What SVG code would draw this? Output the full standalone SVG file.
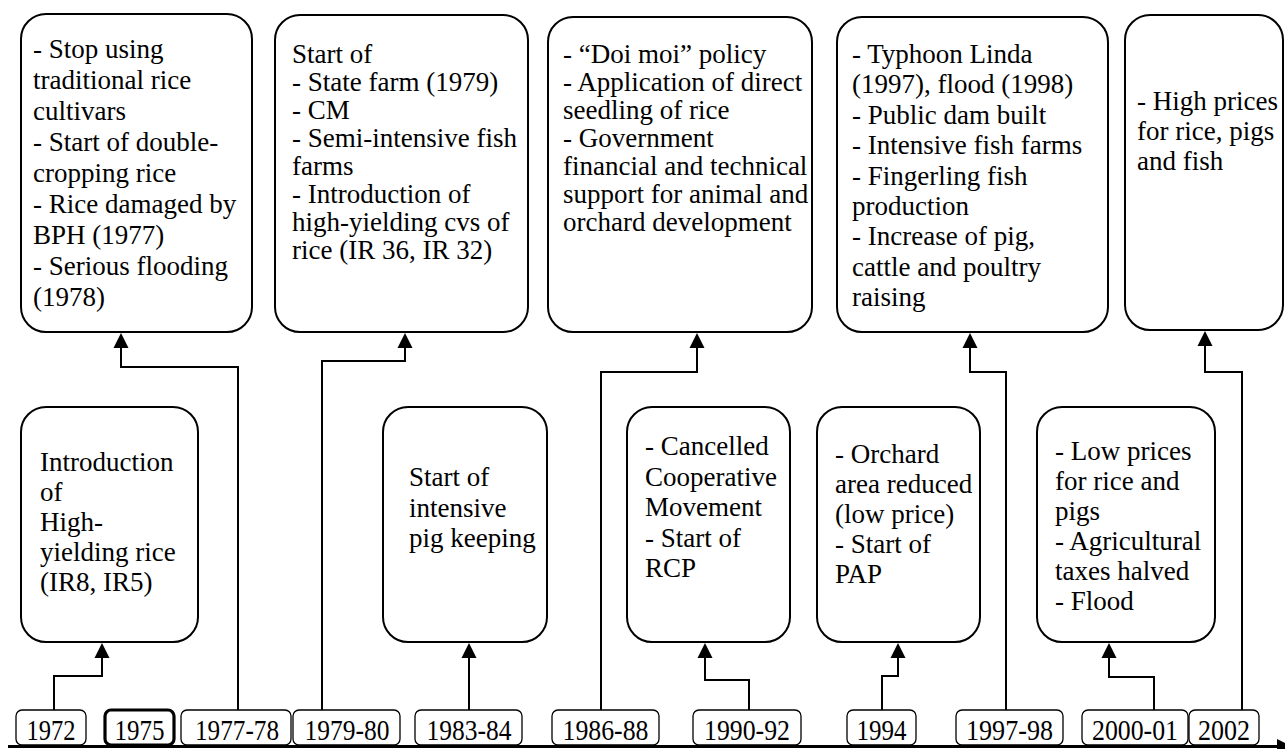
<svg xmlns="http://www.w3.org/2000/svg" width="1285" height="749" viewBox="0 0 1285 749">
<defs>
<marker id="ah" markerUnits="userSpaceOnUse" markerWidth="16" markerHeight="16" viewBox="0 -8 16 16" refX="0" refY="0" orient="auto">
<path d="M0,-7.5 L15,0 L0,7.5 z" fill="#000"/>
</marker>
</defs>
<rect x="0" y="0" width="1285" height="749" fill="#fff"/>

<g id="connectors" fill="none" stroke="#000" stroke-width="2">
<path d="M54,710 V676 H102 V658" marker-end="url(#ah)"/>
<path d="M238,710 V367 H121 V348" marker-end="url(#ah)"/>
<path d="M322,710 V361 H405 V348" marker-end="url(#ah)"/>
<path d="M469,710 V658" marker-end="url(#ah)"/>
<path d="M601,710 V372 H697 V348" marker-end="url(#ah)"/>
<path d="M749,710 V680 H705 V658" marker-end="url(#ah)"/>
<path d="M882,710 V676 H898 V658" marker-end="url(#ah)"/>
<path d="M1006,710 V372 H970 V348" marker-end="url(#ah)"/>
<path d="M1154,710 V677 H1109 V658" marker-end="url(#ah)"/>
<path d="M1242,710 V372 H1205 V346" marker-end="url(#ah)"/>
<line x1="8" y1="746.5" x2="1279" y2="746.5" stroke-width="3"/>
<polygon points="1277,739 1292,746.5 1277,754" fill="#000" stroke="none"/>
</g>

<g id="box-1977-78">
<rect x="21" y="14" width="231" height="318" rx="25" fill="#fff" stroke="#000" stroke-width="2"/>
<text x="33" y="58" font-family="'Times New Roman', 'Liberation Serif', Tinos, serif" font-size="27">- Stop using</text>
<text x="33" y="89" font-family="'Times New Roman', 'Liberation Serif', Tinos, serif" font-size="27">traditional rice</text>
<text x="33" y="120" font-family="'Times New Roman', 'Liberation Serif', Tinos, serif" font-size="27">cultivars</text>
<text x="33" y="151" font-family="'Times New Roman', 'Liberation Serif', Tinos, serif" font-size="27">- Start of double-</text>
<text x="33" y="182" font-family="'Times New Roman', 'Liberation Serif', Tinos, serif" font-size="27">cropping rice</text>
<text x="33" y="213" font-family="'Times New Roman', 'Liberation Serif', Tinos, serif" font-size="27">- Rice damaged by</text>
<text x="33" y="244" font-family="'Times New Roman', 'Liberation Serif', Tinos, serif" font-size="27">BPH (1977)</text>
<text x="33" y="275" font-family="'Times New Roman', 'Liberation Serif', Tinos, serif" font-size="27">- Serious flooding</text>
<text x="33" y="306" font-family="'Times New Roman', 'Liberation Serif', Tinos, serif" font-size="27">(1978)</text>
</g>

<g id="box-1979-80">
<rect x="275" y="15" width="253" height="317" rx="25" fill="#fff" stroke="#000" stroke-width="2"/>
<text x="292" y="63" font-family="'Times New Roman', 'Liberation Serif', Tinos, serif" font-size="27">Start of</text>
<text x="292" y="91" font-family="'Times New Roman', 'Liberation Serif', Tinos, serif" font-size="27">- State farm (1979)</text>
<text x="292" y="119" font-family="'Times New Roman', 'Liberation Serif', Tinos, serif" font-size="27">- CM</text>
<text x="292" y="147" font-family="'Times New Roman', 'Liberation Serif', Tinos, serif" font-size="27">- Semi-intensive fish</text>
<text x="292" y="175" font-family="'Times New Roman', 'Liberation Serif', Tinos, serif" font-size="27">farms</text>
<text x="292" y="203" font-family="'Times New Roman', 'Liberation Serif', Tinos, serif" font-size="27">- Introduction of</text>
<text x="292" y="231" font-family="'Times New Roman', 'Liberation Serif', Tinos, serif" font-size="27">high-yielding cvs of</text>
<text x="292" y="259" font-family="'Times New Roman', 'Liberation Serif', Tinos, serif" font-size="27">rice (IR 36, IR 32)</text>
</g>

<g id="box-1986-88">
<rect x="548" y="17" width="264" height="315" rx="25" fill="#fff" stroke="#000" stroke-width="2"/>
<text x="563" y="63" font-family="'Times New Roman', 'Liberation Serif', Tinos, serif" font-size="27">- “Doi moi” policy</text>
<text x="563" y="91" font-family="'Times New Roman', 'Liberation Serif', Tinos, serif" font-size="27">- Application of direct</text>
<text x="563" y="119" font-family="'Times New Roman', 'Liberation Serif', Tinos, serif" font-size="27">seedling of rice</text>
<text x="563" y="147" font-family="'Times New Roman', 'Liberation Serif', Tinos, serif" font-size="27">- Government</text>
<text x="563" y="175" font-family="'Times New Roman', 'Liberation Serif', Tinos, serif" font-size="27">financial and technical</text>
<text x="563" y="203" font-family="'Times New Roman', 'Liberation Serif', Tinos, serif" font-size="27">support for animal and</text>
<text x="563" y="231" font-family="'Times New Roman', 'Liberation Serif', Tinos, serif" font-size="27">orchard development</text>
</g>

<g id="box-1997-98">
<rect x="837" y="17" width="271" height="315" rx="25" fill="#fff" stroke="#000" stroke-width="2"/>
<text x="852" y="63" font-family="'Times New Roman', 'Liberation Serif', Tinos, serif" font-size="27">- Typhoon Linda</text>
<text x="852" y="93.4" font-family="'Times New Roman', 'Liberation Serif', Tinos, serif" font-size="27">(1997), flood (1998)</text>
<text x="852" y="123.8" font-family="'Times New Roman', 'Liberation Serif', Tinos, serif" font-size="27">- Public dam built</text>
<text x="852" y="154.2" font-family="'Times New Roman', 'Liberation Serif', Tinos, serif" font-size="27">- Intensive fish farms</text>
<text x="852" y="184.6" font-family="'Times New Roman', 'Liberation Serif', Tinos, serif" font-size="27">- Fingerling fish</text>
<text x="852" y="215" font-family="'Times New Roman', 'Liberation Serif', Tinos, serif" font-size="27">production</text>
<text x="852" y="245.4" font-family="'Times New Roman', 'Liberation Serif', Tinos, serif" font-size="27">- Increase of pig,</text>
<text x="852" y="275.8" font-family="'Times New Roman', 'Liberation Serif', Tinos, serif" font-size="27">cattle and poultry</text>
<text x="852" y="306.2" font-family="'Times New Roman', 'Liberation Serif', Tinos, serif" font-size="27">raising</text>
</g>

<g id="box-2002">
<rect x="1125" y="15" width="158" height="315" rx="25" fill="#fff" stroke="#000" stroke-width="2"/>
<text x="1137" y="110" font-family="'Times New Roman', 'Liberation Serif', Tinos, serif" font-size="27">- High prices</text>
<text x="1137" y="140" font-family="'Times New Roman', 'Liberation Serif', Tinos, serif" font-size="27">for rice, pigs</text>
<text x="1137" y="170" font-family="'Times New Roman', 'Liberation Serif', Tinos, serif" font-size="27">and fish</text>
</g>

<g id="box-1972">
<rect x="21" y="407" width="177" height="235" rx="25" fill="#fff" stroke="#000" stroke-width="2"/>
<text x="40" y="471" font-family="'Times New Roman', 'Liberation Serif', Tinos, serif" font-size="27">Introduction</text>
<text x="40" y="501" font-family="'Times New Roman', 'Liberation Serif', Tinos, serif" font-size="27">of</text>
<text x="40" y="531" font-family="'Times New Roman', 'Liberation Serif', Tinos, serif" font-size="27">High-</text>
<text x="40" y="561" font-family="'Times New Roman', 'Liberation Serif', Tinos, serif" font-size="27">yielding rice</text>
<text x="40" y="591" font-family="'Times New Roman', 'Liberation Serif', Tinos, serif" font-size="27">(IR8, IR5)</text>
</g>

<g id="box-1983-84">
<rect x="383" y="407" width="164" height="235" rx="25" fill="#fff" stroke="#000" stroke-width="2"/>
<text x="409" y="486" font-family="'Times New Roman', 'Liberation Serif', Tinos, serif" font-size="27">Start of</text>
<text x="409" y="516.5" font-family="'Times New Roman', 'Liberation Serif', Tinos, serif" font-size="27">intensive</text>
<text x="409" y="547" font-family="'Times New Roman', 'Liberation Serif', Tinos, serif" font-size="27">pig keeping</text>
</g>

<g id="box-1990-92">
<rect x="627" y="407" width="163" height="235" rx="25" fill="#fff" stroke="#000" stroke-width="2"/>
<text x="645" y="455" font-family="'Times New Roman', 'Liberation Serif', Tinos, serif" font-size="27">- Cancelled</text>
<text x="645" y="485.5" font-family="'Times New Roman', 'Liberation Serif', Tinos, serif" font-size="27">Cooperative</text>
<text x="645" y="516" font-family="'Times New Roman', 'Liberation Serif', Tinos, serif" font-size="27">Movement</text>
<text x="645" y="546.5" font-family="'Times New Roman', 'Liberation Serif', Tinos, serif" font-size="27">- Start of</text>
<text x="645" y="577" font-family="'Times New Roman', 'Liberation Serif', Tinos, serif" font-size="27">RCP</text>
</g>

<g id="box-1994">
<rect x="817" y="407" width="163" height="235" rx="25" fill="#fff" stroke="#000" stroke-width="2"/>
<text x="835" y="463" font-family="'Times New Roman', 'Liberation Serif', Tinos, serif" font-size="27">- Orchard</text>
<text x="835" y="493" font-family="'Times New Roman', 'Liberation Serif', Tinos, serif" font-size="27">area reduced</text>
<text x="835" y="523" font-family="'Times New Roman', 'Liberation Serif', Tinos, serif" font-size="27">(low price)</text>
<text x="835" y="553" font-family="'Times New Roman', 'Liberation Serif', Tinos, serif" font-size="27">- Start of</text>
<text x="835" y="583" font-family="'Times New Roman', 'Liberation Serif', Tinos, serif" font-size="27">PAP</text>
</g>

<g id="box-2000-01">
<rect x="1037" y="407" width="178" height="235" rx="25" fill="#fff" stroke="#000" stroke-width="2"/>
<text x="1055" y="460" font-family="'Times New Roman', 'Liberation Serif', Tinos, serif" font-size="27">- Low prices</text>
<text x="1055" y="490" font-family="'Times New Roman', 'Liberation Serif', Tinos, serif" font-size="27">for rice and</text>
<text x="1055" y="520" font-family="'Times New Roman', 'Liberation Serif', Tinos, serif" font-size="27">pigs</text>
<text x="1055" y="550" font-family="'Times New Roman', 'Liberation Serif', Tinos, serif" font-size="27">- Agricultural</text>
<text x="1055" y="580" font-family="'Times New Roman', 'Liberation Serif', Tinos, serif" font-size="27">taxes halved</text>
<text x="1055" y="610" font-family="'Times New Roman', 'Liberation Serif', Tinos, serif" font-size="27">- Flood</text>
</g>

<g id="year-1972"><rect x="16" y="710" width="70" height="35" rx="6" fill="#fff" stroke="#000" stroke-width="1.3"/><text font-family="'Times New Roman', 'Liberation Serif', Tinos, serif" font-size="29" text-anchor="middle" x="51" y="740" textLength="49" lengthAdjust="spacingAndGlyphs">1972</text></g>
<g id="year-1975"><rect x="105" y="710" width="69" height="35" rx="6" fill="#fff" stroke="#000" stroke-width="3.2"/><text font-family="'Times New Roman', 'Liberation Serif', Tinos, serif" font-size="29" text-anchor="middle" x="139.5" y="740" textLength="50" lengthAdjust="spacingAndGlyphs">1975</text></g>
<g id="year-1977-78"><rect x="181" y="710" width="110" height="35" rx="6" fill="#fff" stroke="#000" stroke-width="1.3"/><text font-family="'Times New Roman', 'Liberation Serif', Tinos, serif" font-size="29" text-anchor="middle" x="237" y="740" textLength="84" lengthAdjust="spacingAndGlyphs">1977-78</text></g>
<g id="year-1979-80"><rect x="293" y="710" width="107" height="35" rx="6" fill="#fff" stroke="#000" stroke-width="1.3"/><text font-family="'Times New Roman', 'Liberation Serif', Tinos, serif" font-size="29" text-anchor="middle" x="347" y="740" textLength="85" lengthAdjust="spacingAndGlyphs">1979-80</text></g>
<g id="year-1983-84"><rect x="415" y="710" width="107" height="35" rx="6" fill="#fff" stroke="#000" stroke-width="1.3"/><text font-family="'Times New Roman', 'Liberation Serif', Tinos, serif" font-size="29" text-anchor="middle" x="469" y="740" textLength="85" lengthAdjust="spacingAndGlyphs">1983-84</text></g>
<g id="year-1986-88"><rect x="552" y="710" width="107" height="35" rx="6" fill="#fff" stroke="#000" stroke-width="1.3"/><text font-family="'Times New Roman', 'Liberation Serif', Tinos, serif" font-size="29" text-anchor="middle" x="605.5" y="740" textLength="86" lengthAdjust="spacingAndGlyphs">1986-88</text></g>
<g id="year-1990-92"><rect x="693" y="710" width="108" height="35" rx="6" fill="#fff" stroke="#000" stroke-width="1.3"/><text font-family="'Times New Roman', 'Liberation Serif', Tinos, serif" font-size="29" text-anchor="middle" x="747" y="740" textLength="86" lengthAdjust="spacingAndGlyphs">1990-92</text></g>
<g id="year-1994"><rect x="847" y="710" width="69" height="35" rx="6" fill="#fff" stroke="#000" stroke-width="1.3"/><text font-family="'Times New Roman', 'Liberation Serif', Tinos, serif" font-size="29" text-anchor="middle" x="881.5" y="740" textLength="50" lengthAdjust="spacingAndGlyphs">1994</text></g>
<g id="year-1997-98"><rect x="956" y="710" width="107" height="35" rx="6" fill="#fff" stroke="#000" stroke-width="1.3"/><text font-family="'Times New Roman', 'Liberation Serif', Tinos, serif" font-size="29" text-anchor="middle" x="1009.5" y="740" textLength="87" lengthAdjust="spacingAndGlyphs">1997-98</text></g>
<g id="year-2000-01"><rect x="1082" y="710" width="106" height="35" rx="6" fill="#fff" stroke="#000" stroke-width="1.3"/><text font-family="'Times New Roman', 'Liberation Serif', Tinos, serif" font-size="29" text-anchor="middle" x="1135" y="740" textLength="86" lengthAdjust="spacingAndGlyphs">2000-01</text></g>
<g id="year-2002"><rect x="1189" y="710" width="70" height="35" rx="6" fill="#fff" stroke="#000" stroke-width="1.3"/><text font-family="'Times New Roman', 'Liberation Serif', Tinos, serif" font-size="29" text-anchor="middle" x="1224" y="740" textLength="52" lengthAdjust="spacingAndGlyphs">2002</text></g>
</svg>
